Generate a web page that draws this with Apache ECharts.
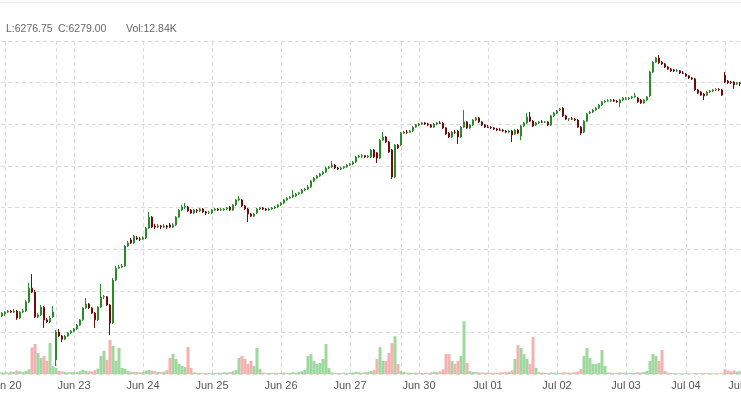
<!DOCTYPE html>
<html>
<head>
<meta charset="utf-8">
<script src="https://cdn.jsdelivr.net/npm/echarts@6/dist/echarts.min.js"></script>
<style>
html, body { margin: 0; padding: 0; background: #fff; overflow: hidden; }
#chart { width: 741px; height: 397px; }
</style>
</head>
<body>
<div id="chart"></div>
<script>
// hourly sessions: [day, first hour, last hour]
var sessions = [
	['Jun 19', 18, 23],
	['Jun 20', 0, 16],
	['Jun 22', 18, 23],
	['Jun 23', 0, 16], ['Jun 23', 18, 23],
	['Jun 24', 0, 16], ['Jun 24', 18, 23],
	['Jun 25', 0, 16], ['Jun 25', 18, 23],
	['Jun 26', 0, 16], ['Jun 26', 18, 23],
	['Jun 27', 0, 16],
	['Jun 29', 18, 23],
	['Jun 30', 0, 16], ['Jun 30', 18, 23],
	['Jul 01', 0, 16], ['Jul 01', 18, 23],
	['Jul 02', 0, 16], ['Jul 02', 18, 23],
	['Jul 03', 0, 13], ['Jul 03', 18, 23],
	['Jul 04', 0, 12],
	['Jul 06', 18, 23],
	['Jul 07', 0, 2]
];

// [open, close, low, high]
var candles = [
	// Jun 19 18-23
	[6056.75, 6057.75, 6055.75, 6058.5], [6057.75, 6056.75, 6055.75, 6058.5], [6056.75, 6057.75, 6055.75, 6058.5],
	[6057.75, 6055.75, 6054.75, 6058.5], [6055.75, 6056.75, 6054.75, 6057.75], [6055.75, 6058.5, 6054.75, 6059.5],
	// Jun 20
	[6057.75, 6059.5, 6055.75, 6060.5], [6059.5, 6060.5, 6058.5, 6061.5], [6060.5, 6059.5, 6058.5, 6061.5],
	[6059.5, 6060.5, 6058.5, 6062.5], [6060.5, 6053.75, 6052, 6061.5], [6053.75, 6059.5, 6052.75, 6060.5],
	[6059.5, 6060.5, 6058.5, 6062.5], [6060.5, 6069.25, 6059.5, 6071], [6069.25, 6082.5, 6068.25, 6087.5],
	[6082.5, 6078.75, 6077.75, 6096], [6078.75, 6054.75, 6053.75, 6080.75], [6054.75, 6056.75, 6053.75, 6058.5],
	[6056.75, 6064.25, 6055.75, 6066.25], [6064.25, 6052, 6044.25, 6065.25], [6052, 6050, 6049, 6053.75],
	[6050, 6053.75, 6049, 6055.75], [6054.75, 6059.5, 6053.75, 6065.25],
	// Jun 22 18-23
	[6013.5, 6040.25, 6007.75, 6042.25], [6040.25, 6036.5, 6035.5, 6043.25], [6036.5, 6033.5, 6030.75, 6037.5],
	[6033.5, 6036.5, 6032.75, 6037.5], [6036.5, 6039.5, 6035.5, 6040.25], [6039.5, 6041.25, 6038.5, 6042.25],
	// Jun 23
	[6041.25, 6043.25, 6040.25, 6044.25], [6043.25, 6047, 6042.25, 6048], [6047, 6052, 6046, 6052.75],
	[6052, 6063.5, 6051, 6064.25], [6063.5, 6067.25, 6062.5, 6073], [6067.25, 6063.5, 6062.5, 6068.25],
	[6063.5, 6058.5, 6057.75, 6064.25], [6058.5, 6052, 6044.25, 6059.5], [6052, 6064.25, 6051, 6065.25],
	[6064.25, 6074, 6063.5, 6086.5], [6074, 6074.25, 6072, 6076], [6074.25, 6066.25, 6065.25, 6075],
	[6066.25, 6049, 6037.5, 6067.25], [6049, 6090.25, 6048, 6092.25], [6090.25, 6101.75, 6089.25, 6103.75],
	[6101.75, 6102.75, 6101, 6104.75], [6102.75, 6103.75, 6101.75, 6105.75],
	[6103.75, 6123, 6102.75, 6124], [6123, 6126, 6122, 6127.75], [6128.75, 6126, 6125, 6130.75],
	[6126, 6132.5, 6125, 6133.5], [6130.75, 6129.75, 6128.75, 6132.5], [6129.75, 6129.5, 6127.75, 6131.75],
	// Jun 24
	[6129.75, 6130.75, 6128.75, 6132.5], [6130.75, 6140.25, 6129.75, 6141.25], [6140.25, 6150.75, 6139.25, 6155.75],
	[6150.75, 6141.25, 6140.25, 6151.75], [6142.25, 6141.25, 6139.25, 6144.25], [6141.25, 6142.25, 6140.25, 6144.25],
	[6142.25, 6141.25, 6139.25, 6143.25], [6141.25, 6142.25, 6140.25, 6144.25], [6142.25, 6141.25, 6139.25, 6143.25],
	[6143.25, 6141.25, 6140.25, 6145], [6141.25, 6143.25, 6140.25, 6145], [6143.25, 6150.75, 6142.25, 6151.75],
	[6150.75, 6157.5, 6150, 6158.5], [6157.5, 6160.5, 6156.75, 6162.5], [6160.5, 6161, 6158.5, 6164.25],
	[6160.5, 6156.75, 6155.75, 6161.5], [6157.5, 6154.75, 6153.75, 6158.5],
	[6154.75, 6157.5, 6153.75, 6158.5], [6157.5, 6156.75, 6154.75, 6158.5], [6156.75, 6158.5, 6155.75, 6159.5],
	[6158.5, 6155.75, 6154.75, 6159.5], [6155.75, 6154.75, 6152.75, 6156.75], [6154.75, 6155, 6153.75, 6156.75],
	// Jun 25
	[6155, 6157.5, 6153.75, 6158.5], [6157.5, 6158.5, 6156.75, 6159.5], [6158.5, 6157.5, 6156.75, 6159.5],
	[6157.5, 6157.75, 6156.75, 6159.5], [6157.75, 6158.5, 6156.75, 6159.5], [6158.5, 6159.5, 6157.5, 6160.5],
	[6160.5, 6157.5, 6156.75, 6161.5], [6157.5, 6162.5, 6156.75, 6163.25], [6162.5, 6167.25, 6161.5, 6168.25],
	[6167.25, 6168.25, 6166.25, 6171], [6167.25, 6161.5, 6160.5, 6168.25], [6161.5, 6158.5, 6157.5, 6162.5],
	[6158.5, 6153.75, 6146, 6159.5], [6153.75, 6151.75, 6150.75, 6154.75], [6151.75, 6153.75, 6150.75, 6154.75],
	[6154.75, 6158.5, 6153.75, 6159.5], [6158.5, 6159.5, 6157.5, 6160.5],
	[6159.5, 6158.5, 6157.5, 6160.5], [6158.5, 6157.5, 6156.75, 6159.5], [6157.5, 6158.5, 6156.75, 6159.5],
	[6158.5, 6159.5, 6157.5, 6160.5], [6159.5, 6160.5, 6158.5, 6161.5], [6160.5, 6162.5, 6159.5, 6163.25],
	// Jun 26
	[6162.5, 6164.25, 6161.5, 6165.25], [6164.25, 6167.25, 6163.25, 6168.25], [6167.25, 6169, 6166.25, 6170],
	[6169, 6170, 6168.25, 6171], [6170, 6172, 6169, 6176.75], [6171, 6173, 6170, 6174],
	[6173, 6174, 6172, 6175], [6174, 6176.75, 6173, 6177.75], [6176.75, 6177.75, 6175.75, 6178.75],
	[6177.75, 6179.75, 6176.75, 6181.75], [6179.75, 6185.5, 6178.75, 6186.5], [6185.5, 6188.25, 6184.5, 6189.25],
	[6188.25, 6190.25, 6187.5, 6191.25], [6190.25, 6192.25, 6189.25, 6193.25], [6192.25, 6194, 6191.25, 6195],
	[6194, 6198, 6193.25, 6199], [6198, 6199, 6197, 6200],
	[6199, 6200.75, 6198, 6204.75], [6200.75, 6198, 6197, 6201.75], [6198, 6197, 6196, 6199],
	[6197, 6198, 6196, 6199], [6198, 6199, 6197, 6200], [6199, 6200.75, 6198, 6201.75],
	// Jun 27
	[6200.75, 6201.75, 6200, 6202.75], [6201.75, 6203.75, 6200.75, 6204.75], [6203.75, 6208.5, 6202.75, 6209.5],
	[6208.5, 6209.5, 6207.5, 6210.5], [6209.5, 6209.75, 6207.5, 6211.5], [6209.75, 6208.5, 6207.5, 6210.5],
	[6208.5, 6209.5, 6207.5, 6210.5], [6208.5, 6215.25, 6207.5, 6216.25], [6215.25, 6208.5, 6207.5, 6216.25],
	[6212.5, 6207.5, 6202.75, 6213.25], [6207.5, 6224.75, 6206.5, 6225.75], [6224.75, 6227.75, 6224, 6232.5],
	[6227.75, 6223, 6222, 6228.75], [6223, 6213.25, 6212.5, 6224], [6215.25, 6189.25, 6187.5, 6216.25],
	[6189.25, 6220, 6188.25, 6221], [6220, 6217.25, 6216.25, 6221],
	// Jun 29 18-23
	[6220, 6231.5, 6219, 6232.5], [6231.5, 6232.5, 6230.75, 6233.5], [6232.5, 6232.25, 6230.75, 6234.5],
	[6232.25, 6233.5, 6231.5, 6234.5], [6233.5, 6237.25, 6232.5, 6238.25], [6237.25, 6239.25, 6236.5, 6240.25],
	// Jun 30
	[6239.25, 6240.25, 6238.25, 6241.25], [6240.25, 6241.25, 6239.25, 6242.25], [6241.25, 6240.25, 6239.25, 6242.25],
	[6240.25, 6239.25, 6238.25, 6241.25], [6239.25, 6237.25, 6236.5, 6240.25], [6237.25, 6240.25, 6236.5, 6241.25],
	[6240.25, 6241.25, 6239.25, 6242.25], [6241.25, 6241, 6240.25, 6243], [6241, 6236.5, 6235.5, 6242.25],
	[6236.5, 6230.75, 6229.75, 6237.25], [6231.5, 6227.75, 6226.75, 6232.5], [6227.75, 6232.5, 6226.75, 6233.5],
	[6232.5, 6232.25, 6230.75, 6234.5], [6233.5, 6227.75, 6221, 6234.5], [6227.75, 6237.25, 6226.75, 6238.25],
	[6237.25, 6242.25, 6236.5, 6253.75], [6242.25, 6236.5, 6235.5, 6243],
	[6236.5, 6239.25, 6235.5, 6240.25], [6239.25, 6244, 6238.25, 6245], [6244, 6246, 6243, 6247],
	[6246, 6242.25, 6241.25, 6247], [6242.25, 6239.25, 6238.25, 6243], [6239.25, 6237.25, 6236.5, 6240.25],
	// Jul 01
	[6237.25, 6237, 6236.5, 6239.25], [6237, 6236.5, 6235.5, 6238.25], [6236.5, 6235.5, 6234.5, 6237.25],
	[6235.5, 6234.5, 6233.5, 6236.5], [6234.5, 6234.25, 6233.5, 6236.5], [6234.25, 6233.5, 6232.5, 6235.5],
	[6233.5, 6232.5, 6231.5, 6234.5], [6232.5, 6233.5, 6231.5, 6234.5], [6233.5, 6229.75, 6223, 6234.5],
	[6230.75, 6234.5, 6229.75, 6235.5], [6234.5, 6231.5, 6230.75, 6235.5], [6228.75, 6238.25, 6224.75, 6239.25],
	[6238.25, 6241.25, 6237.25, 6242.25], [6241.25, 6247, 6240.25, 6250.75], [6247, 6243, 6242.25, 6251.75],
	[6243, 6238.25, 6237.25, 6244], [6239.25, 6241.25, 6238.25, 6242.25],
	[6241.25, 6242.25, 6240.25, 6243], [6242.25, 6242, 6241.25, 6244], [6242, 6242.25, 6241.25, 6243],
	[6242.25, 6239.25, 6238.25, 6243], [6239.25, 6248, 6238.25, 6249], [6248, 6250.75, 6247, 6251.75],
	// Jul 02
	[6250.75, 6252.75, 6249.75, 6253.75], [6253.75, 6254.75, 6252.75, 6255.5], [6255.5, 6248, 6247, 6256.5],
	[6248, 6245, 6244, 6249], [6245, 6245.25, 6243, 6246], [6245.25, 6245, 6244, 6247],
	[6245, 6244, 6243, 6246], [6244, 6237.25, 6236.5, 6245], [6237.25, 6231.5, 6229.75, 6238.25],
	[6232.5, 6243, 6231.5, 6244], [6243, 6249.75, 6242.25, 6250.75], [6250.75, 6251.75, 6249.75, 6252.75],
	[6251.75, 6253.75, 6250.75, 6254.75], [6253.75, 6255.5, 6252.75, 6256.5], [6255.5, 6258.5, 6254.75, 6259.5],
	[6258.5, 6261.5, 6257.5, 6262.25], [6261.5, 6262.25, 6260.5, 6263.25],
	[6262.25, 6262.5, 6261.5, 6264.25], [6262.5, 6263.25, 6261.5, 6264.25], [6263.25, 6262.25, 6261.5, 6264.25],
	[6262.25, 6261.5, 6260.5, 6263.25], [6260.5, 6263.25, 6256.5, 6264.25], [6263.25, 6265.25, 6262.25, 6266.25],
	// Jul 03
	[6264.25, 6264.5, 6263.25, 6266.25], [6264.5, 6265.25, 6263.25, 6266.25], [6265.25, 6266.25, 6264.25, 6267.25],
	[6266.25, 6267.25, 6265.25, 6270], [6265.25, 6261.5, 6260.5, 6266.25], [6263.25, 6260.5, 6259.5, 6264.25],
	[6260.5, 6263.25, 6259.5, 6264.25], [6263.25, 6266.25, 6262.25, 6267.25], [6267.25, 6290.25, 6266.25, 6291.25],
	[6290.25, 6299.75, 6289.25, 6300.75], [6299.75, 6303.75, 6299, 6304.5], [6303.75, 6299, 6298, 6306.5],
	[6299.75, 6298, 6297, 6300.75], [6298, 6295, 6294, 6299],
	[6295, 6293, 6292.25, 6296], [6293, 6291.25, 6290.25, 6294], [6292.25, 6291.25, 6290.25, 6293],
	[6291.25, 6291.5, 6290.25, 6293], [6291.5, 6289.25, 6288.25, 6292.25], [6289.25, 6289, 6288.25, 6291.25],
	// Jul 04
	[6288.25, 6286.5, 6285.5, 6289.25], [6286.5, 6284.5, 6283.5, 6287.25], [6284.5, 6283.5, 6282.5, 6285.5],
	[6283.5, 6273, 6272, 6284.5], [6273, 6270, 6269, 6274], [6271, 6268, 6267.25, 6272],
	[6269, 6267.25, 6263.25, 6270], [6268, 6271, 6267.25, 6272], [6271, 6272, 6270, 6273],
	[6272, 6273, 6271, 6274], [6273, 6273.25, 6272, 6274.75], [6273.25, 6273, 6272, 6274.75],
	[6273, 6268, 6267.25, 6274],
	// Jul 06 18-23
	[6287.25, 6280.5, 6279.75, 6290.25], [6281.5, 6279.75, 6278.75, 6282.5], [6280.5, 6280.25, 6278.75, 6281.5],
	[6280.5, 6277.75, 6274, 6281.5], [6278.75, 6279.75, 6277.75, 6280.5], [6279.75, 6279.00, 6276.75, 6280.5]
];

var volumes = [
	// Jun 19 18-23
	9800, 7400, 6100, 5200, 8300, 6900,
	// Jun 20
	7800, 6400, 11200, 9700, 15600, 12300, 8800, 13400, 21500,
	118000, 134000, 94000, 71000, 80000, 58000, 139000, 35000,
	// Jun 22 18-23
	27000, 14200, 11600, 9300, 8100, 7700,
	// Jun 23
	9400, 8600, 12800, 18900, 14500, 12100, 11300, 16800,
	24000, 81000, 104000, 63000, 152000, 125000, 58000, 116000, 27000,
	24000, 13800, 10200, 9100, 8700, 7600,
	// Jun 24
	9800, 15200, 17800, 14300, 11900, 9100, 8400, 10600,
	17500, 72000, 90000, 67000, 45000, 36000, 31000, 121000, 27000,
	7200, 5900, 5100, 4600, 5400, 4800,
	// Jun 25
	5600, 4900, 6100, 5300, 7400, 6800, 9200, 11800,
	17900, 72000, 81000, 67000, 45000, 58000, 36000, 116000, 22000,
	6200, 5100, 4400, 4900, 5600, 4700,
	// Jun 26
	5400, 6300, 5200, 4800, 7900, 6600, 8700, 12400,
	17800, 80000, 89000, 58000, 45000, 49000, 67000, 134000, 26000,
	6900, 5800, 5300, 4600, 5100, 4400,
	// Jun 27
	5700, 6500, 9800, 7300, 6200, 7700, 8900, 13600,
	18500, 67000, 120000, 58000, 58000, 94000, 138000, 169000, 45000,
	// Jun 29 18-23
	13200, 8400, 6200, 5400, 4900, 5800,
	// Jun 30
	5200, 4600, 6100, 5500, 7200, 9800, 8300, 11400,
	21000, 89000, 89000, 58000, 45000, 58000, 80000, 236000, 49000,
	12800, 9400, 8100, 7300, 6600, 5900,
	// Jul 01
	6300, 5400, 4800, 5200, 6900, 7600, 8400, 10200,
	15800, 67000, 129000, 116000, 89000, 67000, 45000, 165000, 27000,
	7800, 6200, 5100, 4700, 6400, 5300,
	// Jul 02
	5800, 4900, 7400, 6700, 5600, 6200, 8100, 10800,
	22000, 80000, 116000, 71000, 45000, 45000, 49000, 107000, 36000,
	7100, 5800, 5200, 4600, 6300, 5400,
	// Jul 03
	5900, 5100, 4700, 5300, 7800, 6400, 8900, 13400,
	58000, 89000, 80000, 58000, 107000, 13000,
	6100, 4200, 3600, 3100, 3400, 2900,
	// Jul 04
	3200, 2800, 2600, 4100, 3700, 3300, 4600, 3900, 3500, 3000, 2700, 2400, 3100,
	// Jul 06 18-23
	21000, 14800, 11200, 15600, 10300, 12840
];

var categories = [];
sessions.forEach(function(s) {
	for (var h = s[1]; h <= s[2]; h++) {
		categories.push(s[0] + ' ' + (h < 10 ? '0' : '') + h + ':00');
	}
});

function isNewDay(i) {
	return i > 0 && categories[i].slice(0, 6) !== categories[i - 1].slice(0, 6);
}

var UP = '#4cc14c', UP_BORDER = '#2b8a2b';
var DOWN = '#b01c1c', DOWN_BORDER = '#6e0c0c';
var VOL_UP = '#9fd89f', VOL_DOWN = '#f5b0b0';
var GRID_LINE = { color: '#dadada', width: 1, type: [4, 3] };
var FONT = '"Liberation Sans", Arial, sans-serif';

var chart = echarts.init(document.getElementById('chart'));

chart.setOption({
	animation: false,
	graphic: [
		{ type: 'line', shape: { x1: 0, y1: 2.5, x2: 741, y2: 2.5 }, style: { stroke: '#eeeeee', lineWidth: 1 } },
		{ type: 'text', left: 6, top: 24, style: { text: 'L:6276.75', fill: '#666', font: '10.5px ' + FONT } },
		{ type: 'text', left: 58, top: 24, style: { text: 'C:6279.00', fill: '#666', font: '10.5px ' + FONT } },
		{ type: 'text', left: 126, top: 24, style: { text: 'Vol:12.84K', fill: '#666', font: '10.5px ' + FONT } }
	],
	grid: [
		{ left: -13, right: -8, top: 41, bottom: 23, outerBoundsMode: 'none' },
		{ left: -13, right: -8, top: 318, bottom: 23, outerBoundsMode: 'none' }
	],
	xAxis: [{
		type: 'category',
		data: categories,
		boundaryGap: false,
		axisLine: { show: false },
		axisTick: { show: false },
		axisLabel: {
			interval: function(i, v) { return v.slice(7) === '00:00'; },
			formatter: function(v) { return v.slice(0, 6); },
			color: '#555',
			fontSize: 11,
			fontFamily: FONT,
			margin: 6
		},
		splitLine: {
			show: true,
			interval: function(i) { return isNewDay(i); },
			lineStyle: GRID_LINE
		}
	}, {
		type: 'category',
		gridIndex: 1,
		data: categories,
		boundaryGap: false,
		show: false
	}],
	yAxis: [{
		type: 'value',
		position: 'right',
		min: 6000,
		max: 6320,
		interval: 40,
		axisLine: { show: false },
		axisTick: { show: false },
		axisLabel: { show: false },
		splitLine: { show: true, lineStyle: GRID_LINE }
	}, {
		type: 'value',
		gridIndex: 1,
		min: 0,
		max: 250000,
		show: false,
		splitLine: { show: false }
	}],
	series: [{
		type: 'bar',
		xAxisIndex: 1,
		yAxisIndex: 1,
		data: volumes,
		barWidth: 3,
		itemStyle: {
			color: function(p) {
				var c = candles[p.dataIndex];
				return c[1] >= c[0] ? VOL_UP : VOL_DOWN;
			}
		}
	}, {
		type: 'candlestick',
		data: candles,
		barWidth: 2,
		itemStyle: {
			color: UP,
			color0: DOWN,
			borderColor: UP_BORDER,
			borderColor0: DOWN_BORDER,
			borderWidth: 1
		}
	}]
});
</script>
</body>
</html>
